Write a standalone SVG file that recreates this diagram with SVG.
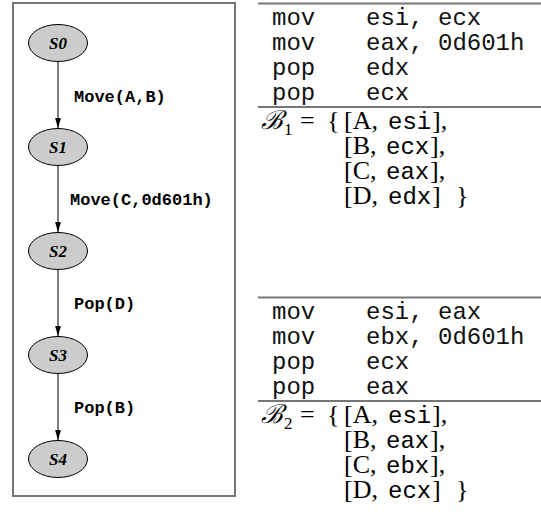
<svg xmlns="http://www.w3.org/2000/svg" width="541" height="529" viewBox="0 0 541 529">
<style>
.node ellipse{fill:#cccccc;stroke:#000;stroke-width:1}
.node text{font-family:"Liberation Serif",serif;font-weight:bold;font-style:italic;font-size:17px;text-anchor:middle}
.edges line{stroke:#000;stroke-width:1}
.elabel{font-family:"Liberation Mono",monospace;font-weight:bold;font-size:17px;fill:#000}
.asm{font-family:"Liberation Mono",monospace;font-size:24px;fill:#111}
.math{font-family:"Liberation Serif","DejaVu Serif",serif;font-size:26px;fill:#000}
.tt{font-family:"Liberation Mono",monospace;font-size:24px;fill:#000}
.sub{font-family:"Liberation Serif",serif;font-size:17px}
.rule{stroke:#777;stroke-width:2}
</style>
<defs>
<marker id="ah" markerUnits="userSpaceOnUse" viewBox="0 0 11 6" refX="11" refY="3" markerWidth="11" markerHeight="6" orient="auto">
<path d="M0,0 L11,3 L0,6 z" fill="#000"/>
</marker>
</defs>
<rect x="13" y="3" width="222" height="493" fill="none" stroke="#777" stroke-width="2"/>
<g id="edges" class="edges">
<line x1="58" y1="61.5" x2="58" y2="128.5" marker-end="url(#ah)"/>
<line x1="58" y1="165.5" x2="58" y2="232.5" marker-end="url(#ah)"/>
<line x1="58" y1="269.5" x2="58" y2="336.5" marker-end="url(#ah)"/>
<line x1="58" y1="373.5" x2="58" y2="440.5" marker-end="url(#ah)"/>
<text class="elabel" x="74" y="102">Move(A,B)</text>
<text class="elabel" x="70" y="205">Move(C,0d601h)</text>
<text class="elabel" x="74" y="309">Pop(D)</text>
<text class="elabel" x="74" y="413">Pop(B)</text>
</g>
<g id="S0" class="node"><ellipse cx="58" cy="43" rx="29.5" ry="18.5"/><text x="58" y="49">S0</text></g>
<g id="S1" class="node"><ellipse cx="58" cy="147" rx="29.5" ry="18.5"/><text x="58" y="153">S1</text></g>
<g id="S2" class="node"><ellipse cx="58" cy="251" rx="29.5" ry="18.5"/><text x="58" y="257">S2</text></g>
<g id="S3" class="node"><ellipse cx="58" cy="355" rx="29.5" ry="18.5"/><text x="58" y="361">S3</text></g>
<g id="S4" class="node"><ellipse cx="58" cy="459" rx="29.5" ry="18.5"/><text x="58" y="465">S4</text></g>

<g id="block1">
<line class="rule" x1="258" y1="3.5" x2="541" y2="3.5"/>
<text class="asm" x="272" y="25">mov</text><text class="asm" x="366" y="25">esi, ecx</text>
<text class="asm" x="272" y="50">mov</text><text class="asm" x="366" y="50">eax, 0d601h</text>
<text class="asm" x="272" y="75">pop</text><text class="asm" x="366" y="75">edx</text>
<text class="asm" x="272" y="100">pop</text><text class="asm" x="366" y="100">ecx</text>
<line class="rule" x1="258" y1="107" x2="541" y2="107"/>
<text class="math" x="261" y="129" font-style="italic">ℬ</text>
<text class="sub" x="284" y="135">1</text>
<text class="math" x="300" y="129">=</text>
<text class="math" x="327" y="129">{</text>
<text class="math" x="344" y="129">[A,</text><text class="tt" x="388" y="129">esi</text><text class="math" x="432" y="129">],</text>
<text class="math" x="344" y="154">[B,</text><text class="tt" x="386" y="154">ecx</text><text class="math" x="430" y="154">],</text>
<text class="math" x="344" y="179">[C,</text><text class="tt" x="386" y="179">eax</text><text class="math" x="430" y="179">],</text>
<text class="math" x="344" y="204">[D,</text><text class="tt" x="388" y="204">edx</text><text class="math" x="432" y="204">]</text>
<text class="math" x="456" y="204">}</text>
</g>

<g id="block2">
<line class="rule" x1="258" y1="297.5" x2="541" y2="297.5"/>
<text class="asm" x="272" y="319">mov</text><text class="asm" x="366" y="319">esi, eax</text>
<text class="asm" x="272" y="344">mov</text><text class="asm" x="366" y="344">ebx, 0d601h</text>
<text class="asm" x="272" y="369">pop</text><text class="asm" x="366" y="369">ecx</text>
<text class="asm" x="272" y="394">pop</text><text class="asm" x="366" y="394">eax</text>
<line class="rule" x1="258" y1="401" x2="541" y2="401"/>
<text class="math" x="261" y="423" font-style="italic">ℬ</text>
<text class="sub" x="284" y="429">2</text>
<text class="math" x="300" y="423">=</text>
<text class="math" x="327" y="423">{</text>
<text class="math" x="344" y="423">[A,</text><text class="tt" x="388" y="423">esi</text><text class="math" x="432" y="423">],</text>
<text class="math" x="344" y="448">[B,</text><text class="tt" x="386" y="448">eax</text><text class="math" x="430" y="448">],</text>
<text class="math" x="344" y="473">[C,</text><text class="tt" x="386" y="473">ebx</text><text class="math" x="430" y="473">],</text>
<text class="math" x="344" y="498">[D,</text><text class="tt" x="388" y="498">ecx</text><text class="math" x="432" y="498">]</text>
<text class="math" x="456" y="498">}</text>
</g>
</svg>
